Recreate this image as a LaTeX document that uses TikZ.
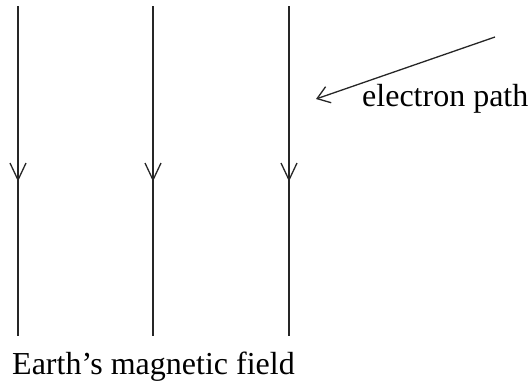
\documentclass[tikz,border=0pt]{standalone}
\usepackage{fontspec}
\setmainfont{Liberation Serif}
\usetikzlibrary{arrows.meta}
\tikzset{
  field/.style={line width=1.6pt, black!85},
  chev/.style={line width=1.3pt, black!85},
  lbl/.style={font=\fontsize{32}{36}\selectfont, inner sep=0pt, anchor=base west},
}
\begin{document}
\begin{tikzpicture}[x=1pt,y=-1pt]
\useasboundingbox (0,0) rectangle (529,386);
\foreach \i/\x in {1/18,2/153,3/289}{
  \coordinate (t\i) at (\x,6);
  \coordinate (b\i) at (\x,336);
  \coordinate (m\i) at (\x,180);
  \draw[field] (t\i) -- (b\i);
  \draw[chev] (\x-8,163) -- (m\i) -- (\x+8,163);
}
\coordinate (s) at (495,37);
\coordinate (e) at (316,99);
\draw[chev, -{Straight Barb[length=12pt,width=17pt]}] (s) -- (e);
\node[lbl] (ep) at (362,106) {electron path};
\node[lbl] (emf) at (12,374) {Earth’s magnetic field};
\end{tikzpicture}
\end{document}
